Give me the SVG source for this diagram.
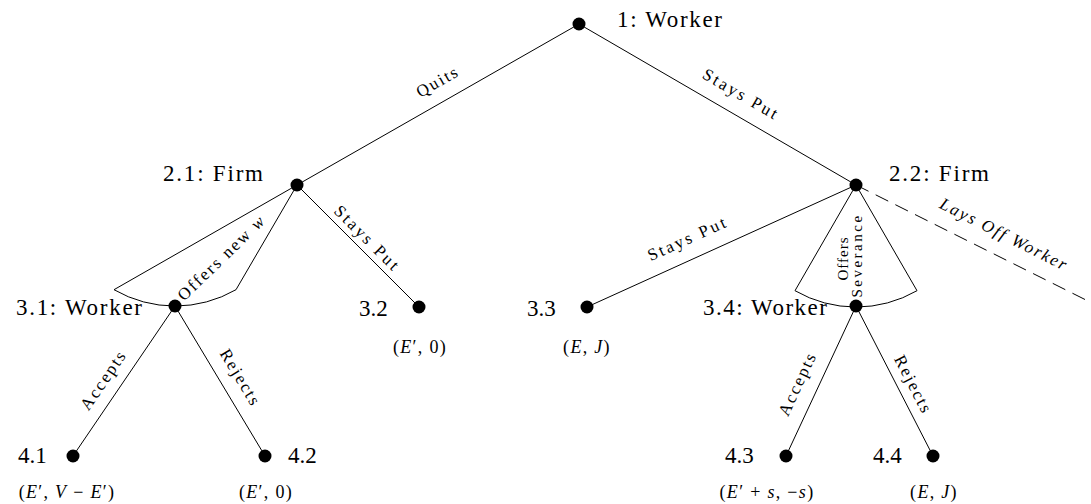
<svg xmlns="http://www.w3.org/2000/svg" width="1091" height="504" viewBox="0 0 1091 504">
<style>
text{font-family:"Liberation Serif",serif}
.e{stroke:#000;stroke-width:1;fill:none}
.d{stroke:#000;stroke-width:1;stroke-dasharray:14 8;fill:none}
.n{fill:#000}
.nl{font-size:23px}
.el{font-size:17px;letter-spacing:2px}
.fl{font-size:15px}
.po{font-size:18px;letter-spacing:1.3px}
.i{font-style:italic}
</style>
<rect width="1091" height="504" fill="#fff"/>
<g id="connectors">
  <line class="e" x1="579" y1="24" x2="297" y2="185"/>
  <line class="e" x1="579" y1="24" x2="856" y2="185"/>
  <path class="e" d="M297,185 L114,289.7 A122,122 0 0 0 236,289.7 Z"/>
  <line class="e" x1="297" y1="185" x2="419" y2="307"/>
  <line class="e" x1="856" y1="185" x2="587" y2="307"/>
  <path class="e" d="M856,185 L795,290.7 A122,122 0 0 0 917,290.7 Z"/>
  <line class="d" x1="856" y1="185" x2="1100" y2="307"/>
  <line class="e" x1="175" y1="306" x2="73" y2="456"/>
  <line class="e" x1="175" y1="306" x2="265" y2="456"/>
  <line class="e" x1="856" y1="306" x2="786" y2="456"/>
  <line class="e" x1="856" y1="306" x2="933" y2="456"/>
  <text class="el" font-family="Liberation Serif" text-anchor="middle" x="440.5" y="86.3" transform="rotate(-29.7 440.5 86.3)">Quits</text>
  <text class="el" font-family="Liberation Serif" text-anchor="middle" x="738.5" y="99.3" style="letter-spacing:2.5px" transform="rotate(30.2 738.5 99.3)">Stays Put</text>
  <text class="el" font-family="Liberation Serif" text-anchor="middle" x="225.5" y="261.6" transform="rotate(-44 225.5 261.6)">Offers new <tspan class="i">w</tspan></text>
  <text class="el" font-family="Liberation Serif" text-anchor="middle" x="363.5" y="242.5" style="letter-spacing:2.5px" transform="rotate(45 363.5 242.5)">Stays Put</text>
  <text class="el" font-family="Liberation Serif" text-anchor="middle" x="690" y="243.5" style="letter-spacing:2.5px" transform="rotate(-24.4 690 243.5)">Stays Put</text>
  <text class="el i" font-family="Liberation Serif" text-anchor="middle" x="1001.8" y="239.5" transform="rotate(26.8 1001.8 239.5)">Lays Off Worker</text>
  <text class="fl" font-family="Liberation Serif" text-anchor="middle" x="848" y="258.5" style="letter-spacing:1px" transform="rotate(-90 848 258.5)">Offers</text>
  <text class="fl" font-family="Liberation Serif" text-anchor="middle" x="862" y="255.5" style="letter-spacing:2.5px" transform="rotate(-90 862 255.5)">Severance</text>
  <text class="el" font-family="Liberation Serif" text-anchor="middle" x="108" y="383" transform="rotate(-55.6 108 383)">Accepts</text>
  <text class="el" font-family="Liberation Serif" text-anchor="middle" x="235.7" y="380.6" transform="rotate(58.9 235.7 380.6)">Rejects</text>
  <text class="el" font-family="Liberation Serif" text-anchor="middle" x="802.5" y="386" transform="rotate(-65 802.5 386)">Accepts</text>
  <text class="el" font-family="Liberation Serif" text-anchor="middle" x="908.5" y="387.3" transform="rotate(62.8 908.5 387.3)">Rejects</text>
</g>
<g id="n1">
  <circle class="n" cx="579" cy="24" r="6.5"/>
  <text class="nl" font-family="Liberation Serif" x="617" y="27" textLength="105" lengthAdjust="spacing">1: Worker</text>
</g>
<g id="n2-1">
  <circle class="n" cx="297" cy="185" r="6.5"/>
  <text class="nl" font-family="Liberation Serif" x="163" y="181" textLength="100" lengthAdjust="spacing">2.1: Firm</text>
</g>
<g id="n2-2">
  <circle class="n" cx="856" cy="185" r="6.5"/>
  <text class="nl" font-family="Liberation Serif" x="889" y="181" textLength="100" lengthAdjust="spacing">2.2: Firm</text>
</g>
<g id="n3-1">
  <circle class="n" cx="175" cy="306" r="6.5"/>
  <text class="nl" font-family="Liberation Serif" x="16" y="315" textLength="126" lengthAdjust="spacing">3.1: Worker</text>
</g>
<g id="n3-2">
  <circle class="n" cx="419" cy="307" r="6.5"/>
  <text class="nl" font-family="Liberation Serif" x="359" y="316">3.2</text>
  <text class="po" font-family="Liberation Serif" text-anchor="middle" x="420" y="353">(<tspan class="i">E</tspan>′, 0)</text>
</g>
<g id="n3-3">
  <circle class="n" cx="587" cy="307" r="6.5"/>
  <text class="nl" font-family="Liberation Serif" x="527" y="316">3.3</text>
  <text class="po" font-family="Liberation Serif" text-anchor="middle" x="587" y="353">(<tspan class="i">E</tspan>, <tspan class="i">J</tspan>)</text>
</g>
<g id="n3-4">
  <circle class="n" cx="856" cy="306" r="6.5"/>
  <text class="nl" font-family="Liberation Serif" x="703" y="315" textLength="124" lengthAdjust="spacing">3.4: Worker</text>
</g>
<g id="n4-1">
  <circle class="n" cx="73" cy="456" r="6.5"/>
  <text class="nl" font-family="Liberation Serif" x="18" y="463">4.1</text>
  <text class="po" font-family="Liberation Serif" text-anchor="middle" x="67" y="498">(<tspan class="i">E</tspan>′, <tspan class="i">V</tspan> − <tspan class="i">E</tspan>′)</text>
</g>
<g id="n4-2">
  <circle class="n" cx="265" cy="456" r="6.5"/>
  <text class="nl" font-family="Liberation Serif" x="288" y="463">4.2</text>
  <text class="po" font-family="Liberation Serif" text-anchor="middle" x="266" y="498">(<tspan class="i">E</tspan>′, 0)</text>
</g>
<g id="n4-3">
  <circle class="n" cx="786" cy="456" r="6.5"/>
  <text class="nl" font-family="Liberation Serif" x="725" y="463">4.3</text>
  <text class="po" font-family="Liberation Serif" text-anchor="middle" x="767" y="498">(<tspan class="i">E</tspan>′ + <tspan class="i">s</tspan>, −<tspan class="i">s</tspan>)</text>
</g>
<g id="n4-4">
  <circle class="n" cx="933" cy="456" r="6.5"/>
  <text class="nl" font-family="Liberation Serif" x="873" y="463">4.4</text>
  <text class="po" font-family="Liberation Serif" text-anchor="middle" x="934" y="498">(<tspan class="i">E</tspan>, <tspan class="i">J</tspan>)</text>
</g>
</svg>
